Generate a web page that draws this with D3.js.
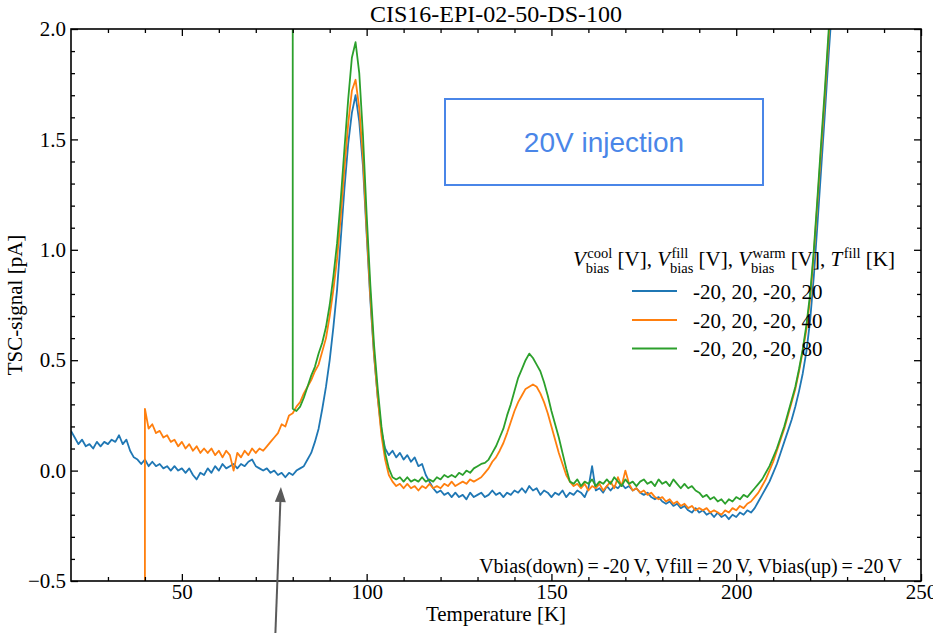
<!DOCTYPE html>
<html><head><meta charset="utf-8">
<script src="https://cdn.jsdelivr.net/npm/d3@7"></script>
<style>
html,body{margin:0;padding:0;background:#fff;}
svg{display:block;}
text{font-family:"Liberation Serif","Times New Roman",serif;fill:#000;}
</style></head><body>
<svg id="chart" width="933" height="633"></svg>
<script>
// ---------------- data ----------------
const chartTitle = "CIS16-EPI-02-50-DS-100";
const xLabel = "Temperature [K]";
const yLabel = "TSC-signal [pA]";
const xDomain = [20, 250];
const yDomain = [-0.5, 2.0];
const xMajorTicks = [50, 100, 150, 200, 250];
const xMinorTicks = [30, 40, 60, 70, 80, 90, 110, 120, 130, 140, 160, 170, 180, 190, 210, 220, 230, 240];
const yMajorTicks = [-0.5, 0.0, 0.5, 1.0, 1.5, 2.0];
const yTickLabels = ["\u22120.5", "0.0", "0.5", "1.0", "1.5", "2.0"];
const yMinorTicks = [-0.4, -0.3, -0.2, -0.1, 0.1, 0.2, 0.3, 0.4, 0.6, 0.7, 0.8, 0.9, 1.1, 1.2, 1.3, 1.4, 1.6, 1.7, 1.8, 1.9];

const seriesLabels = ["-20, 20, -20, 20", "-20, 20, -20, 40", "-20, 20, -20, 80"];
const seriesColors = ["#1f77b4", "#ff7f0e", "#2ca02c"];

// T = 20 K ... 226 K, 1 K steps
const blueStartT = 20;
const blueValues = [
  0.18,0.15,0.12,0.14,0.11,0.12,0.10,0.13,0.11,0.13,
  0.12,0.14,0.13,0.16,0.12,0.14,0.09,0.06,0.05,0.03,
  0.05,0.02,0.04,0.02,0.03,0.01,0.02,0.00,0.02,0.00,
  0.01,-0.01,0.01,-0.02,-0.04,-0.01,-0.02,0.01,-0.01,0.02,
  0.00,0.03,0.01,0.02,0.03,0.01,0.03,0.02,0.04,0.05,
  0.02,0.01,0.00,0.01,-0.01,0.00,-0.02,-0.01,-0.03,-0.01,
  -0.02,0.00,0.01,0.02,0.05,0.08,0.13,0.19,0.28,0.38,
  0.50,0.65,0.82,1.05,1.28,1.48,1.62,1.70,1.58,1.38,
  1.07,0.77,0.52,0.33,0.18,0.10,0.07,0.09,0.06,0.08,
  0.05,0.07,0.04,0.06,0.02,0.03,-0.02,-0.05,-0.08,-0.10,
  -0.09,-0.11,-0.10,-0.12,-0.10,-0.12,-0.11,-0.13,-0.10,-0.12,
  -0.11,-0.10,-0.12,-0.11,-0.09,-0.11,-0.10,-0.12,-0.10,-0.11,
  -0.09,-0.10,-0.08,-0.10,-0.07,-0.09,-0.08,-0.11,-0.09,-0.10,
  -0.12,-0.10,-0.11,-0.09,-0.12,-0.10,-0.11,-0.09,-0.10,-0.12,
  -0.08,0.02,-0.09,-0.08,-0.10,-0.07,-0.09,-0.07,-0.08,-0.06,
  -0.08,-0.07,-0.09,-0.08,-0.10,-0.11,-0.10,-0.12,-0.13,-0.12,
  -0.14,-0.15,-0.14,-0.16,-0.15,-0.17,-0.16,-0.18,-0.19,-0.17,
  -0.19,-0.18,-0.20,-0.19,-0.21,-0.19,-0.21,-0.20,-0.22,-0.20,
  -0.21,-0.19,-0.20,-0.18,-0.19,-0.17,-0.14,-0.11,-0.08,-0.05,
  -0.01,0.03,0.08,0.13,0.18,0.23,0.29,0.36,0.44,0.54,
  0.68,0.88,1.12,1.37,1.62,1.88,2.12
];

// T = 40 K ... 226 K; the trace enters from below the axis at 40 K
const orangeStartT = 40;
const orangeLeadValue = -0.62;
const orangeValues = [
  0.28,0.19,0.21,0.17,0.18,0.15,0.16,0.13,0.14,0.11,
  0.13,0.10,0.12,0.09,0.11,0.08,0.10,0.08,0.10,0.07,
  0.09,0.06,0.09,0.07,0.00,0.08,0.06,0.09,0.07,0.10,
  0.08,0.10,0.09,0.11,0.13,0.15,0.17,0.21,0.20,0.25,
  0.26,0.29,0.31,0.35,0.38,0.41,0.45,0.48,0.54,0.60,
  0.70,0.82,0.96,1.15,1.37,1.57,1.72,1.77,1.64,1.42,
  1.09,0.79,0.53,0.33,0.16,0.05,-0.02,-0.05,-0.07,-0.06,
  -0.08,-0.06,-0.08,-0.07,-0.09,-0.07,-0.08,-0.06,-0.08,-0.07,
  -0.08,-0.06,-0.07,-0.05,-0.07,-0.06,-0.05,-0.06,-0.04,-0.05,
  -0.04,-0.03,-0.01,0.01,0.04,0.06,0.09,0.125,0.17,0.22,
  0.27,0.31,0.34,0.37,0.38,0.39,0.38,0.35,0.31,0.26,
  0.20,0.14,0.08,0.03,-0.02,-0.05,-0.07,-0.06,-0.08,-0.06,
  -0.09,-0.07,-0.08,-0.06,-0.09,-0.07,-0.05,-0.08,-0.03,-0.07,
  0.00,-0.06,-0.09,-0.08,-0.10,-0.09,-0.11,-0.10,-0.12,-0.13,
  -0.12,-0.14,-0.13,-0.15,-0.14,-0.16,-0.15,-0.17,-0.16,-0.18,
  -0.17,-0.18,-0.17,-0.19,-0.18,-0.19,-0.20,-0.18,-0.19,-0.17,
  -0.18,-0.16,-0.17,-0.15,-0.14,-0.12,-0.10,-0.07,-0.04,0.00,
  0.04,0.09,0.14,0.19,0.25,0.31,0.37,0.45,0.54,0.64,
  0.78,0.98,1.22,1.46,1.70,1.96,2.20
];

// T = 80 K ... 226 K; the trace enters from above the axis at 80 K
const greenStartT = 80;
const greenLeadValue = 2.3;
const greenValues = [
  0.28,0.27,0.29,0.33,0.38,0.43,0.47,0.53,0.58,0.65,
  0.75,0.88,1.03,1.23,1.46,1.68,1.87,1.94,1.80,1.52,
  1.16,0.84,0.57,0.37,0.20,0.08,0.01,-0.03,-0.04,-0.03,
  -0.05,-0.03,-0.05,-0.04,-0.05,-0.03,-0.05,-0.04,-0.05,-0.03,
  -0.04,-0.02,-0.03,-0.02,-0.03,-0.01,-0.02,0.00,-0.01,0.01,
  0.02,0.03,0.035,0.05,0.08,0.11,0.15,0.19,0.25,0.30,
  0.36,0.42,0.46,0.50,0.53,0.51,0.48,0.45,0.40,0.34,
  0.27,0.21,0.15,0.08,0.01,-0.05,-0.06,-0.04,-0.07,-0.05,
  -0.06,-0.04,-0.07,-0.05,-0.06,-0.04,-0.06,-0.03,-0.05,-0.07,
  -0.04,-0.06,-0.05,-0.07,-0.05,-0.04,-0.06,-0.05,-0.07,-0.04,
  -0.06,-0.05,-0.07,-0.04,-0.06,-0.08,-0.06,-0.08,-0.07,-0.09,
  -0.10,-0.12,-0.11,-0.13,-0.12,-0.14,-0.13,-0.15,-0.13,-0.14,
  -0.12,-0.13,-0.11,-0.12,-0.10,-0.08,-0.06,-0.04,-0.01,0.02,
  0.06,0.10,0.15,0.20,0.26,0.32,0.38,0.46,0.55,0.66,
  0.80,1.00,1.24,1.49,1.73,1.99,2.25
];

const legendTitleParts = [
  {main: "V", italic: true}, {sup: "cool", sub: "bias"}, {main: " [V], "},
  {main: "V", italic: true}, {sup: "fill", sub: "bias"}, {main: " [V], "},
  {main: "V", italic: true}, {sup: "warm", sub: "bias"}, {main: " [V], "},
  {main: "T", italic: true}, {sup: "fill"}, {main: " [K]"}
];
const boxText = "20V injection";
const conditionText = "Vbias(down)\u2009=\u2009-20\u2009V, Vfill\u2009=\u200920\u2009V, Vbias(up)\u2009=\u2009-20\u2009V";
// arrow annotation (data coordinates): tail below the axis, tip near the blue trace
const arrowTail = [75.3, -0.74];
const arrowTip = [76.8, -0.074];

// ---------------- layout ----------------
const W = 933, H = 633;
const plot = {left: 71, right: 921, top: 29, bottom: 581};
const svg = d3.select("#chart");
svg.append("rect").attr("width", W).attr("height", H).attr("fill", "#fff");

const x = d3.scaleLinear().domain(xDomain).range([plot.left, plot.right]);
const y = d3.scaleLinear().domain(yDomain).range([plot.bottom, plot.top]);

svg.append("defs").append("clipPath").attr("id", "clip")
  .append("rect").attr("x", plot.left).attr("y", plot.top)
  .attr("width", plot.right - plot.left).attr("height", plot.bottom - plot.top);

function buildSeries(startT, values, lead) {
  const pts = [];
  if (lead !== undefined) pts.push([startT, lead]);
  values.forEach((v, i) => pts.push([startT + i, v]));
  return pts;
}
const series = [
  buildSeries(blueStartT, blueValues),
  buildSeries(orangeStartT, orangeValues, orangeLeadValue),
  buildSeries(greenStartT, greenValues, greenLeadValue)
];

const line = d3.line().x(d => x(d[0])).y(d => y(d[1]));
const lines = svg.append("g").attr("clip-path", "url(#clip)");
series.forEach((pts, i) => {
  lines.append("path").datum(pts).attr("d", line)
    .attr("fill", "none").attr("stroke", seriesColors[i])
    .attr("stroke-width", 1.8).attr("stroke-linejoin", "round");
});

// ---------------- axes ----------------
const tickFont = 21;
function styleAxis(g) {
  g.select(".domain").remove();
  g.selectAll(".tick line").attr("stroke", "#000").attr("stroke-width", 1.3);
  g.selectAll(".tick text").style("font-family", '"Liberation Serif", serif').style("font-size", tickFont + "px").attr("fill", "#000");
}
svg.append("g").attr("transform", `translate(0,${plot.bottom})`)
  .call(d3.axisBottom(x).tickValues(xMajorTicks).tickSize(-7).tickPadding(3).tickSizeOuter(0).tickFormat(d3.format("d")))
  .call(styleAxis);
svg.append("g").attr("transform", `translate(0,${plot.bottom})`)
  .call(d3.axisBottom(x).tickValues(xMinorTicks).tickSize(-4).tickFormat("").tickSizeOuter(0))
  .call(styleAxis);
svg.append("g").attr("transform", `translate(0,${plot.top})`)
  .call(d3.axisTop(x).tickValues(xMajorTicks).tickSize(-7).tickFormat("").tickSizeOuter(0))
  .call(styleAxis);
svg.append("g").attr("transform", `translate(0,${plot.top})`)
  .call(d3.axisTop(x).tickValues(xMinorTicks).tickSize(-4).tickFormat("").tickSizeOuter(0))
  .call(styleAxis);
svg.append("g").attr("transform", `translate(${plot.left},0)`)
  .call(d3.axisLeft(y).tickValues(yMajorTicks).tickSize(-7).tickPadding(5).tickSizeOuter(0)
    .tickFormat((d, i) => yTickLabels[i]))
  .call(styleAxis);
svg.append("g").attr("transform", `translate(${plot.left},0)`)
  .call(d3.axisLeft(y).tickValues(yMinorTicks).tickSize(-4).tickFormat("").tickSizeOuter(0))
  .call(styleAxis);
svg.append("g").attr("transform", `translate(${plot.right},0)`)
  .call(d3.axisRight(y).tickValues(yMajorTicks).tickSize(-7).tickFormat("").tickSizeOuter(0))
  .call(styleAxis);
svg.append("g").attr("transform", `translate(${plot.right},0)`)
  .call(d3.axisRight(y).tickValues(yMinorTicks).tickSize(-4).tickFormat("").tickSizeOuter(0))
  .call(styleAxis);

svg.append("rect").attr("x", plot.left).attr("y", plot.top)
  .attr("width", plot.right - plot.left).attr("height", plot.bottom - plot.top)
  .attr("fill", "none").attr("stroke", "#000").attr("stroke-width", 1.6);

svg.append("text").attr("x", (plot.left + plot.right) / 2).attr("y", 22)
  .attr("text-anchor", "middle").style("font-size", "24px").text(chartTitle);
svg.append("text").attr("x", (plot.left + plot.right) / 2).attr("y", 621)
  .attr("text-anchor", "middle").style("font-size", "21px").text(xLabel);
svg.append("text").attr("transform", `translate(22,${(plot.top + plot.bottom) / 2}) rotate(-90)`)
  .attr("text-anchor", "middle").style("font-size", "21px").text(yLabel);

// ---------------- injection box ----------------
svg.append("rect").attr("x", 445).attr("y", 99).attr("width", 318).attr("height", 86)
  .attr("fill", "none").attr("stroke", "#4a86e8").attr("stroke-width", 2);
svg.append("text").attr("x", 604).attr("y", 152).attr("text-anchor", "middle")
  .style("font-family", '"Liberation Sans", Arial, sans-serif').style("font-size", "28px")
  .style("fill", "#4a86e8").text(boxText);

// ---------------- legend ----------------
const legTitle = svg.append("g");
const mainSize = 21, scriptSize = 14.5;
let cx = 0;
legendTitleParts.forEach(p => {
  if (p.main !== undefined) {
    const t = legTitle.append("text").attr("x", cx).attr("y", 0)
      .style("font-size", mainSize + "px").style("white-space", "pre")
      .style("font-style", p.italic ? "italic" : "normal").text(p.main);
    cx += t.node().getComputedTextLength();
  } else {
    let w = 0;
    if (p.sup) {
      const t = legTitle.append("text").attr("x", cx + 1.5).attr("y", -8)
        .style("font-size", scriptSize + "px").text(p.sup);
      w = Math.max(w, t.node().getComputedTextLength() + 1.5);
    }
    if (p.sub) {
      const t = legTitle.append("text").attr("x", cx).attr("y", 7)
        .style("font-size", scriptSize + "px").text(p.sub);
      w = Math.max(w, t.node().getComputedTextLength());
    }
    cx += w;
  }
});
legTitle.attr("transform", `translate(${895 - cx},266)`);

const legRowY = [291, 320, 348.5];
seriesLabels.forEach((lab, i) => {
  svg.append("line").attr("x1", 632).attr("x2", 677).attr("y1", legRowY[i]).attr("y2", legRowY[i])
    .attr("stroke", seriesColors[i]).attr("stroke-width", 1.8);
  svg.append("text").attr("x", 693).attr("y", legRowY[i] + 7.5)
    .style("font-size", "21px").text(lab);
});

// ---------------- bottom condition text ----------------
svg.append("text").attr("x", 902).attr("y", 573).attr("text-anchor", "end")
  .style("font-size", "20px").text(conditionText);

// ---------------- arrow ----------------
const tx = x(arrowTail[0]), ty = y(arrowTail[1]);
const hx = x(arrowTip[0]), hy = y(arrowTip[1]);
const len = Math.hypot(hx - tx, hy - ty);
const ux = (hx - tx) / len, uy = (hy - ty) / len;
const headL = 15, headW = 5.5;
const bx = hx - ux * headL, by = hy - uy * headL;
svg.append("line").attr("x1", tx).attr("y1", ty).attr("x2", bx).attr("y2", by)
  .attr("stroke", "#5a5a5a").attr("stroke-width", 2);
svg.append("polygon")
  .attr("points", [[hx, hy], [bx - uy * headW, by + ux * headW], [bx + uy * headW, by - ux * headW]].map(p => p.join(",")).join(" "))
  .attr("fill", "#5a5a5a");
</script>
</body></html>
